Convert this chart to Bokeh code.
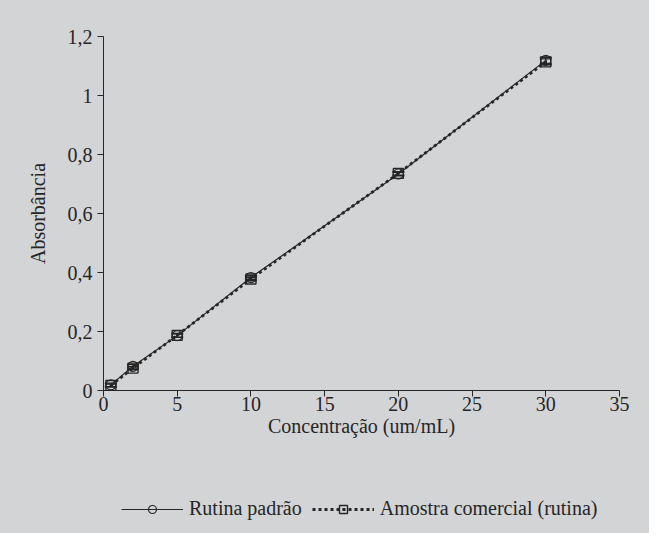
from bokeh.plotting import figure
from bokeh.layouts import column
from bokeh.models import (ColumnDataSource, Legend, LegendItem, FixedTicker, Whisker, Range1d)
from bokeh.embed import file_html
from bokeh.resources import INLINE

# data
conc = [0.5, 2, 5, 10, 20, 30]
rutina_padrao = [0.019, 0.082, 0.186, 0.383, 0.734, 1.119]
rutina_err = [0.006, 0.006, 0.006, 0.006, 0.006, 0.010]
amostra = [0.017, 0.076, 0.187, 0.378, 0.736, 1.114]
amostra_err = [0.005, 0.005, 0.006, 0.006, 0.006, 0.010]

x_ticks = [0, 5, 10, 15, 20, 25, 30, 35]
y_ticks = [0, 0.2, 0.4, 0.6, 0.8, 1.0, 1.2]
y_tick_labels = ["0", "0,2", "0,4", "0,6", "0,8", "1", "1,2"]

x_title = "Concentração (um/mL)"
y_title = "Absorbância"
series_names = ["Rutina padrão", "Amostra comercial (rutina)"]

BG = "#d3d4d6"
INK = "#262626"
FONT = "Liberation Serif"

p = figure(width=649, height=462, output_backend="svg", toolbar_location=None,
           x_range=Range1d(0, 35), y_range=Range1d(0, 1.2),
           min_border_left=103, min_border_right=30, min_border_top=36, min_border_bottom=72)
p.background_fill_alpha = 0
p.border_fill_alpha = 0
p.outline_line_color = None
p.grid.visible = False

for ax in (p.xaxis, p.yaxis):
    ax.axis_line_color = INK
    ax.major_tick_line_color = INK
    ax.major_tick_out = 6
    ax.major_tick_in = 0
    ax.minor_tick_line_color = None
    ax.major_label_text_font = FONT
    ax.major_label_text_font_size = "20px"
    ax.major_label_text_color = INK
    ax.axis_label_text_font = FONT
    ax.axis_label_text_font_size = "20px"
    ax.axis_label_text_font_style = "normal"
    ax.axis_label_text_color = INK

p.xaxis.ticker = FixedTicker(ticks=x_ticks)
p.yaxis.ticker = FixedTicker(ticks=y_ticks)
p.yaxis.major_label_overrides = {t: l for t, l in zip(y_ticks, y_tick_labels)}
p.xaxis.axis_label = x_title
p.yaxis.axis_label = y_title
p.xaxis.major_label_standoff = 0
p.xaxis.axis_label_standoff = 1
p.yaxis.major_label_standoff = 5
p.yaxis.axis_label_standoff = 16

src1 = ColumnDataSource(dict(x=conc, y=rutina_padrao,
                             lo=[v - e for v, e in zip(rutina_padrao, rutina_err)],
                             hi=[v + e for v, e in zip(rutina_padrao, rutina_err)]))
src2 = ColumnDataSource(dict(x=conc, y=amostra,
                             lo=[v - e for v, e in zip(amostra, amostra_err)],
                             hi=[v + e for v, e in zip(amostra, amostra_err)]))

LINE1 = dict(line_color=INK, line_width=1.2)
LINE2 = dict(line_color=INK, line_width=2.8, line_dash="3 3")
MARK1 = dict(marker="circle", size=10, fill_color=None, line_color=INK, line_width=1.2)
MARK2 = dict(marker="square_dot", size=10, fill_color=None, line_color=INK, line_width=1.4)

p.line("x", "y", source=src1, **LINE1)
p.line("x", "y", source=src2, **LINE2)

for src in (src1, src2):
    w = Whisker(base="x", lower="lo", upper="hi", source=src, line_color=INK, line_width=1.2)
    w.upper_head.size = 12
    w.lower_head.size = 12
    w.upper_head.line_color = INK
    w.lower_head.line_color = INK
    w.upper_head.line_width = 1.4
    w.lower_head.line_width = 1.4
    p.add_layout(w)

p.scatter("x", "y", source=src1, **MARK1)
p.scatter("x", "y", source=src2, **MARK2)

# legend strip below the chart (its renderers share the data but lie outside its view)
q = figure(width=649, height=71, output_backend="svg", toolbar_location=None,
           x_range=Range1d(100, 101), y_range=Range1d(100, 101),
           min_border_left=0, min_border_right=0, min_border_top=0, min_border_bottom=0)
q.axis.visible = False
q.grid.visible = False
q.outline_line_color = None
q.background_fill_alpha = 0
q.border_fill_alpha = 0

ql1 = q.line("x", "y", source=src1, **LINE1)
qm1 = q.scatter("x", "y", source=src1, **MARK1)
ql2 = q.line("x", "y", source=src2, **LINE2)
qm2 = q.scatter("x", "y", source=src2, **MARK2)

legend = Legend(items=[LegendItem(label=series_names[0], renderers=[ql1, qm1]),
                       LegendItem(label=series_names[1], renderers=[ql2, qm2])],
                orientation="horizontal", location=(18, 13),
                background_fill_alpha=0, border_line_color=None,
                glyph_width=62, glyph_height=20, label_text_font=FONT,
                label_text_font_size="20px", label_text_color=INK,
                spacing=10, label_standoff=6, padding=4, margin=0)
q.add_layout(legend, "center")

layout = column(p, q, spacing=0, styles={"background-color": BG})
open("out.html", "w").write(file_html(layout, INLINE))
